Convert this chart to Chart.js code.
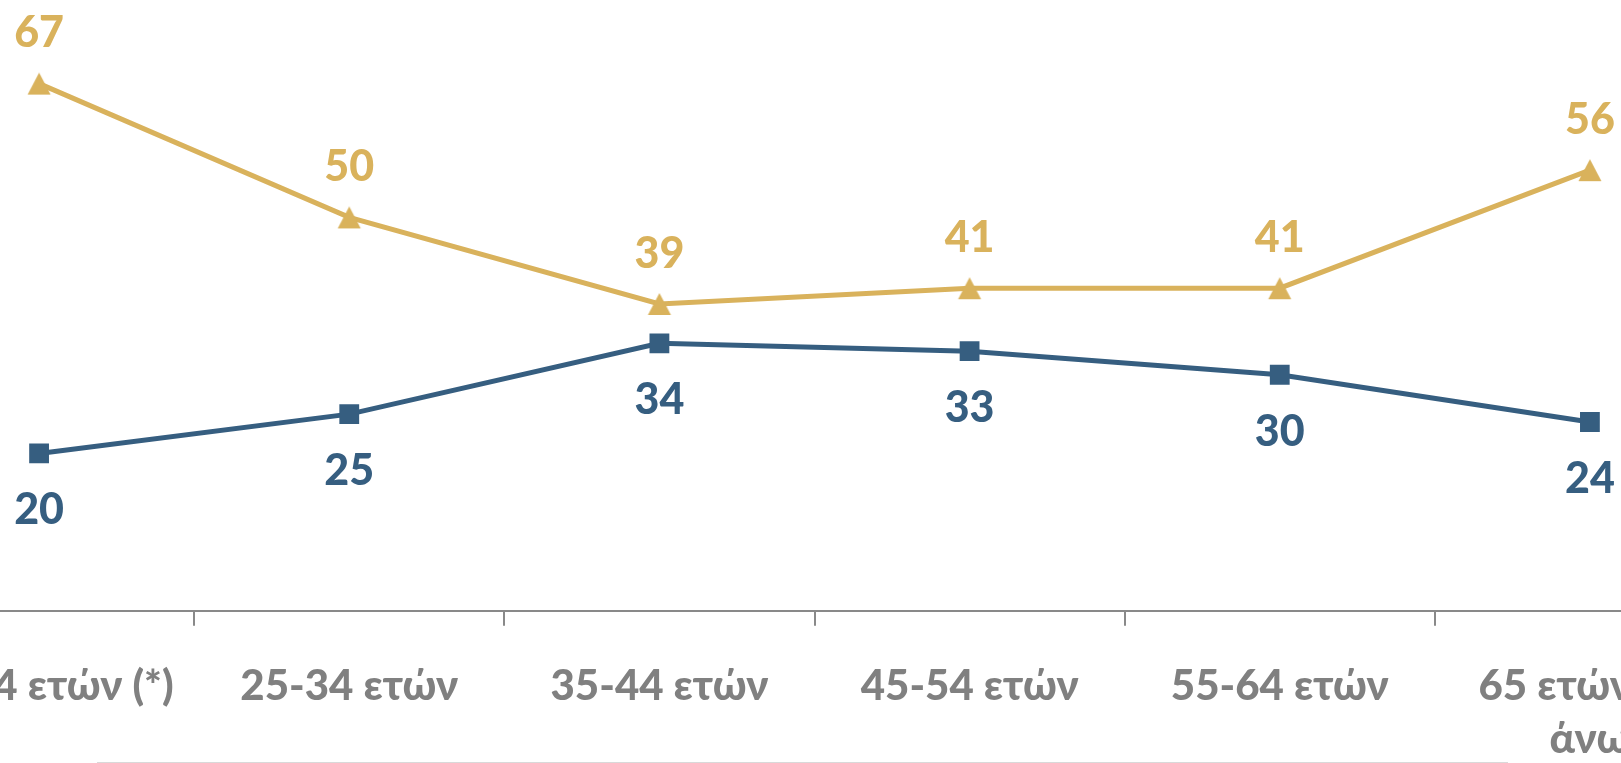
<!DOCTYPE html>
<html>
<head>
<meta charset="utf-8">
<script src="https://cdn.jsdelivr.net/npm/chart.js@4"></script>
<style>
  html, body { margin: 0; padding: 0; background: #ffffff; overflow: hidden; width: 1621px; height: 763px; }
  #wrap { position: absolute; left: -176px; top: 0; width: 1981px; height: 820px; }
  #bottomLine { position: absolute; left: 97px; top: 762px; width: 1411px; height: 1px; background: #d9d9d9; }
</style>
</head>
<body>
<div id="wrap"><canvas id="c"></canvas></div>
<div id="bottomLine"></div>
<script>
const categories = ["18-24 ετών (*)", "25-34 ετών", "35-44 ετών", "45-54 ετών", "55-64 ετών", ["65 ετών και", "άνω"]];
const goldSeries = [67, 50, 39, 41, 41, 56];
const blueSeries = [20, 25, 34, 33, 30, 24];

const GOLD = '#d9b25c';
const BLUE = '#365e80';
const FONT = 'Lato, "Open Sans", sans-serif';

// triangle marker centred on its bounding box (like the original)
function makeTriangle(color) {
  const cv = document.createElement('canvas');
  cv.width = 26; cv.height = 26;
  const g = cv.getContext('2d');
  g.fillStyle = color;
  g.beginPath();
  g.moveTo(13, 2);
  g.lineTo(24.5, 24);
  g.lineTo(1.5, 24);
  g.closePath();
  g.fill();
  return cv;
}

const valueLabels = {
  id: 'valueLabels',
  afterDatasetsDraw(chart) {
    const ctx = chart.ctx;
    ctx.save();
    ctx.font = '900 43px ' + FONT;
    ctx.textAlign = 'center';
    ctx.textBaseline = 'middle';
    chart.data.datasets.forEach((ds, di) => {
      const meta = chart.getDatasetMeta(di);
      meta.data.forEach((pt, i) => {
        ctx.fillStyle = ds.borderColor;
        const dy = ds.labelAbove ? -50 : 57;
        ctx.fillText(String(ds.data[i]), pt.x, pt.y + dy);
      });
    });
    ctx.restore();
  }
};

new Chart(document.getElementById('c'), {
  type: 'line',
  data: {
    labels: categories,
    datasets: [
      {
        data: goldSeries,
        borderColor: GOLD,
        backgroundColor: GOLD,
        borderWidth: 5,
        pointStyle: makeTriangle(GOLD),
        pointRadius: 13,
        pointHoverRadius: 13,
        pointBorderWidth: 0,
        labelAbove: true,
        tension: 0
      },
      {
        data: blueSeries,
        borderColor: BLUE,
        backgroundColor: BLUE,
        borderWidth: 5,
        pointStyle: 'rect',
        pointRadius: 14,
        pointHoverRadius: 14,
        pointBorderWidth: 0,
        labelAbove: false,
        tension: 0
      }
    ]
  },
  options: {
    responsive: true,
    maintainAspectRatio: false,
    animation: false,
    events: [],
    layout: { padding: { left: 60, right: 60, top: 60, bottom: 20 } },
    plugins: { legend: { display: false }, tooltip: { enabled: false } },
    scales: {
      x: {
        offset: true,
        grid: { display: true, drawOnChartArea: false, drawTicks: true, tickLength: 15, color: '#898989', lineWidth: 2, offset: true },
        border: { display: true, color: '#898989', width: 2 },
        ticks: {
          color: '#808080',
          font: { family: FONT, size: 42, weight: '900', lineHeight: 1.24 },
          padding: 35,
          maxRotation: 0,
          autoSkip: false
        }
      },
      y: {
        display: false,
        min: 0,
        max: 70
      }
    }
  },
  plugins: [valueLabels]
});
</script>
</body>
</html>
